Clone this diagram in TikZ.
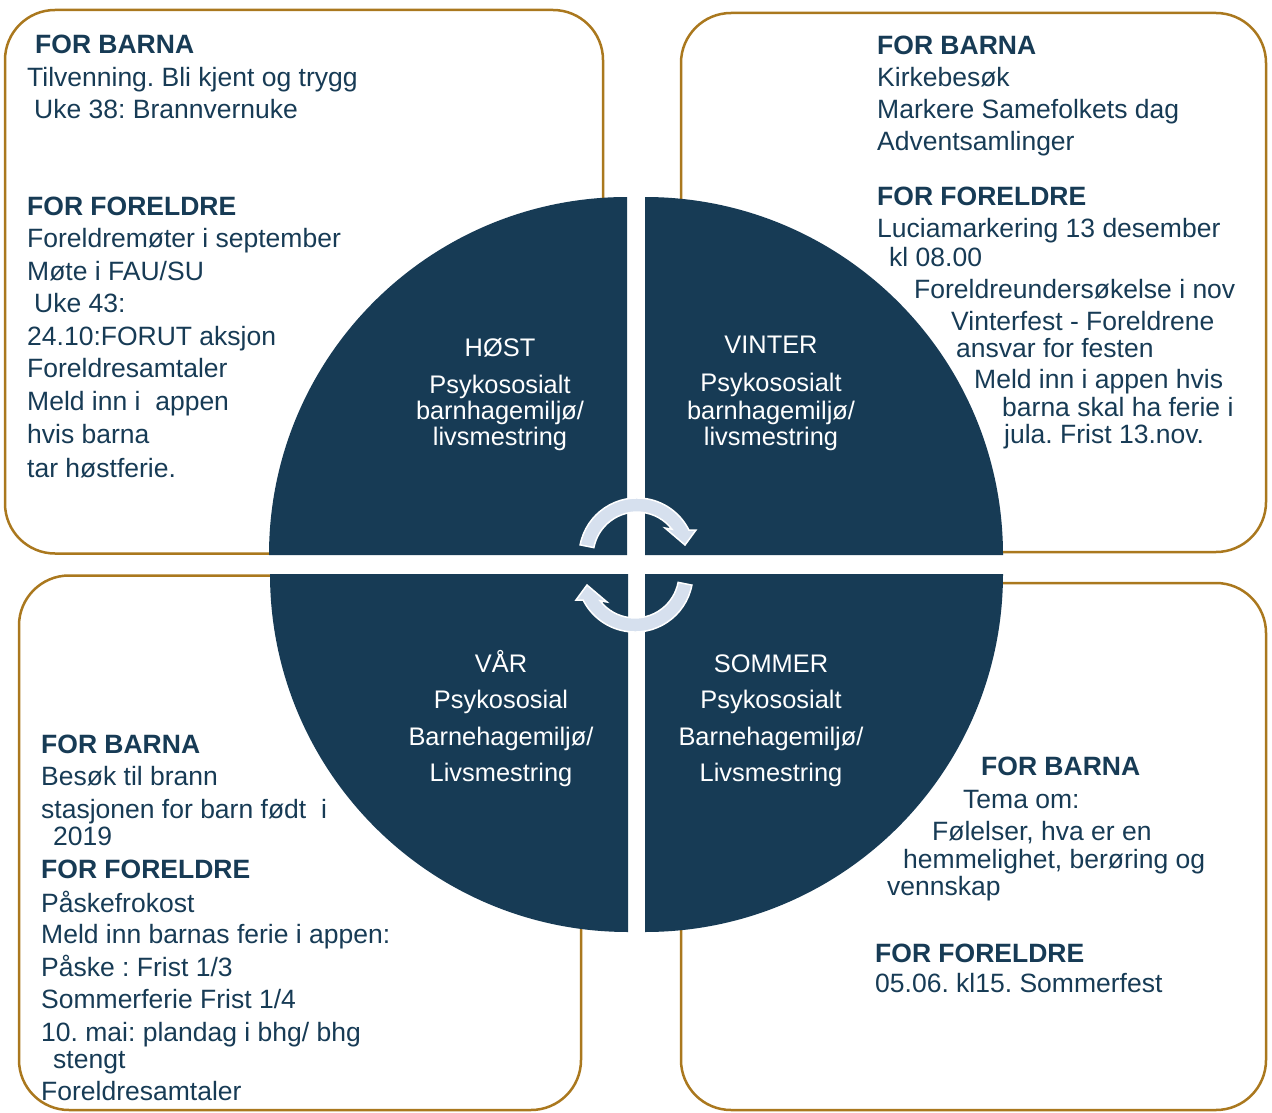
\documentclass[tikz,border=0pt]{standalone}
\usepackage{fontspec}
\setmainfont{Liberation Sans}
\frenchspacing
\definecolor{navy}{RGB}{23,59,85}
\definecolor{gold}{RGB}{170,120,30}
\definecolor{arrowfill}{RGB}{214,224,238}
\begin{document}
\frenchspacing
\begin{tikzpicture}[x=1pt,y=-1pt,
  box/.style={draw=gold,line width=2.5pt,rounded corners=50pt},
  quad/.style={fill=navy},
  rot/.style={fill=arrowfill,draw=white,line width=1.5pt,line join=miter},
  tx/.style={anchor=base west,inner sep=0pt,text=navy,font=\fontsize{26.5}{30}\selectfont\frenchspacing},
  hd/.style={anchor=base west,inner sep=0pt,text=navy,font=\fontsize{26.5}{30}\selectfont\bfseries},
  ct/.style={anchor=base,inner sep=0pt,text=white,font=\fontsize{25.4}{28}\selectfont}]
\fill[white] (0,0) rectangle (1272,1113);
\useasboundingbox (0,0) rectangle (1272,1113);

% gold boxes (behind the circle)
\draw[box] (5,10) rectangle (603,553.5);
\draw[box] (681,13) rectangle (1266,552);
\draw[box] (19,575.5) rectangle (581,1110);
\draw[box] (681,583) rectangle (1266,1110);

% quadrants
\fill[quad] (627,555) -- (269,555) arc[start angle=180,end angle=90,radius=358pt] -- cycle;
\fill[quad] (645,555) -- (645,197) arc[start angle=90,end angle=0,radius=358pt] -- cycle;
\fill[quad] (628,574) -- (270,574) arc[start angle=180,end angle=270,radius=358pt] -- cycle;
\fill[quad] (645,574) -- (1003,574) arc[start angle=0,end angle=-90,radius=358pt] -- cycle;

% circular arrows
\path[rot] (580.1,544.9) arc[start angle=169,end angle=26.6,radius=58pt]
  -- (696,530) -- (685,545) -- (665,528) -- (671.9,529.2)
  arc[start angle=37.6,end angle=169,radius=44pt] -- cycle;
\path[rot] (691.9,585.1) arc[start angle=349,end angle=206.6,radius=58pt]
  -- (576,600) -- (587,585) -- (607,602) -- (600.1,600.8)
  arc[start angle=217.6,end angle=349,radius=44pt] -- cycle;

% centre texts
\node[ct] (h1) at (500,356) {HØST};
\node[ct] (h2) at (500,393) {Psykososialt};
\node[ct] (h3) at (500,419) {barnhagemiljø/};
\node[ct] (h4) at (500,445) {livsmestring};
\node[ct] (v1) at (771,353) {VINTER};
\node[ct] (v2) at (771,391) {Psykososialt};
\node[ct] (v3) at (771,419) {barnhagemiljø/};
\node[ct] (v4) at (771,445) {livsmestring};
\node[ct] (a1) at (501,672) {VÅR};
\node[ct] (a2) at (501,708) {Psykososial};
\node[ct] (a3) at (501,745) {Barnehagemiljø/};
\node[ct] (a4) at (501,781) {Livsmestring};
\node[ct] (s1) at (771,672) {SOMMER};
\node[ct] (s2) at (771,708) {Psykososialt};
\node[ct] (s3) at (771,745) {Barnehagemiljø/};
\node[ct] (s4) at (771,781) {Livsmestring};

% top-left box
\node[hd] (tlh1) at (35,54) {FOR BARNA};
\node[tx] (tl1) at (27,87) {Tilvenning. Bli kjent og trygg};
\node[tx] (tl2) at (34,119) {Uke 38: Brannvernuke};
\node[hd] (tlh2) at (27,215) {FOR FORELDRE};
\node[tx] (tl3) at (27,247) {Foreldremøter i september};
\node[tx] (tl4) at (27,280) {Møte i FAU/SU};
\node[tx] (tl5) at (34,312) {Uke 43:};
\node[tx] (tl6) at (27,345) {24.10:FORUT aksjon};
\node[tx] (tl7) at (27,377) {Foreldresamtaler};
\node[tx] (tl8) at (27,410) {Meld inn i\ \ appen};
\node[tx] (tl9) at (27,443) {hvis barna};
\node[tx] (tl10) at (27,477) {tar høstferie.};

% top-right box
\node[hd] (trh1) at (877,55) {FOR BARNA};
\node[tx] (tr1) at (877,87) {Kirkebesøk};
\node[tx] (tr2) at (877,119) {Markere Samefolkets dag};
\node[tx] (tr3) at (877,150) {Adventsamlinger};
\node[hd] (trh2) at (877,205) {FOR FORELDRE};
\node[tx] (tr4) at (877,237) {Luciamarkering 13 desember};
\node[tx] (tr5) at (889,266) {kl 08.00};
\node[tx] (tr6) at (914,298) {Foreldreundersøkelse i nov};
\node[tx] (tr7) at (951,330) {Vinterfest - Foreldrene};
\node[tx] (tr8) at (956,357) {ansvar for festen};
\node[tx] (tr9) at (974,388) {Meld inn i appen hvis};
\node[tx] (tr10) at (1002,416) {barna skal ha ferie i};
\node[tx] (tr11) at (1004,443) {jula. Frist 13.nov.};

% bottom-left box
\node[hd] (blh1) at (41,753) {FOR BARNA};
\node[tx] (bl1) at (41,785) {Besøk til brann};
\node[tx] (bl2) at (41,818) {stasjonen for barn født\ \ i};
\node[tx] (bl3) at (53,845) {2019};
\node[hd] (blh2) at (41,878) {FOR FORELDRE};
\node[tx] (bl4) at (41,912) {Påskefrokost};
\node[tx] (bl5) at (41,943) {Meld inn barnas ferie i appen:};
\node[tx] (bl6) at (41,976) {Påske : Frist 1/3};
\node[tx] (bl7) at (41,1008) {Sommerferie Frist 1/4};
\node[tx] (bl8) at (41,1041) {10. mai: plandag i bhg/ bhg};
\node[tx] (bl9) at (53,1068) {stengt};
\node[tx] (bl10) at (41,1100) {Foreldresamtaler};

% bottom-right box
\node[hd] (brh1) at (981,775) {FOR BARNA};
\node[tx] (br1) at (963,808) {Tema om:};
\node[tx] (br2) at (932,840) {Følelser, hva er en};
\node[tx] (br3) at (903,868) {hemmelighet, berøring og};
\node[tx] (br4) at (887,895) {vennskap};
\node[hd] (brh2) at (875,962) {FOR FORELDRE};
\node[tx] (br5) at (875,992) {05.06. kl15. Sommerfest};
\end{tikzpicture}
\end{document}
